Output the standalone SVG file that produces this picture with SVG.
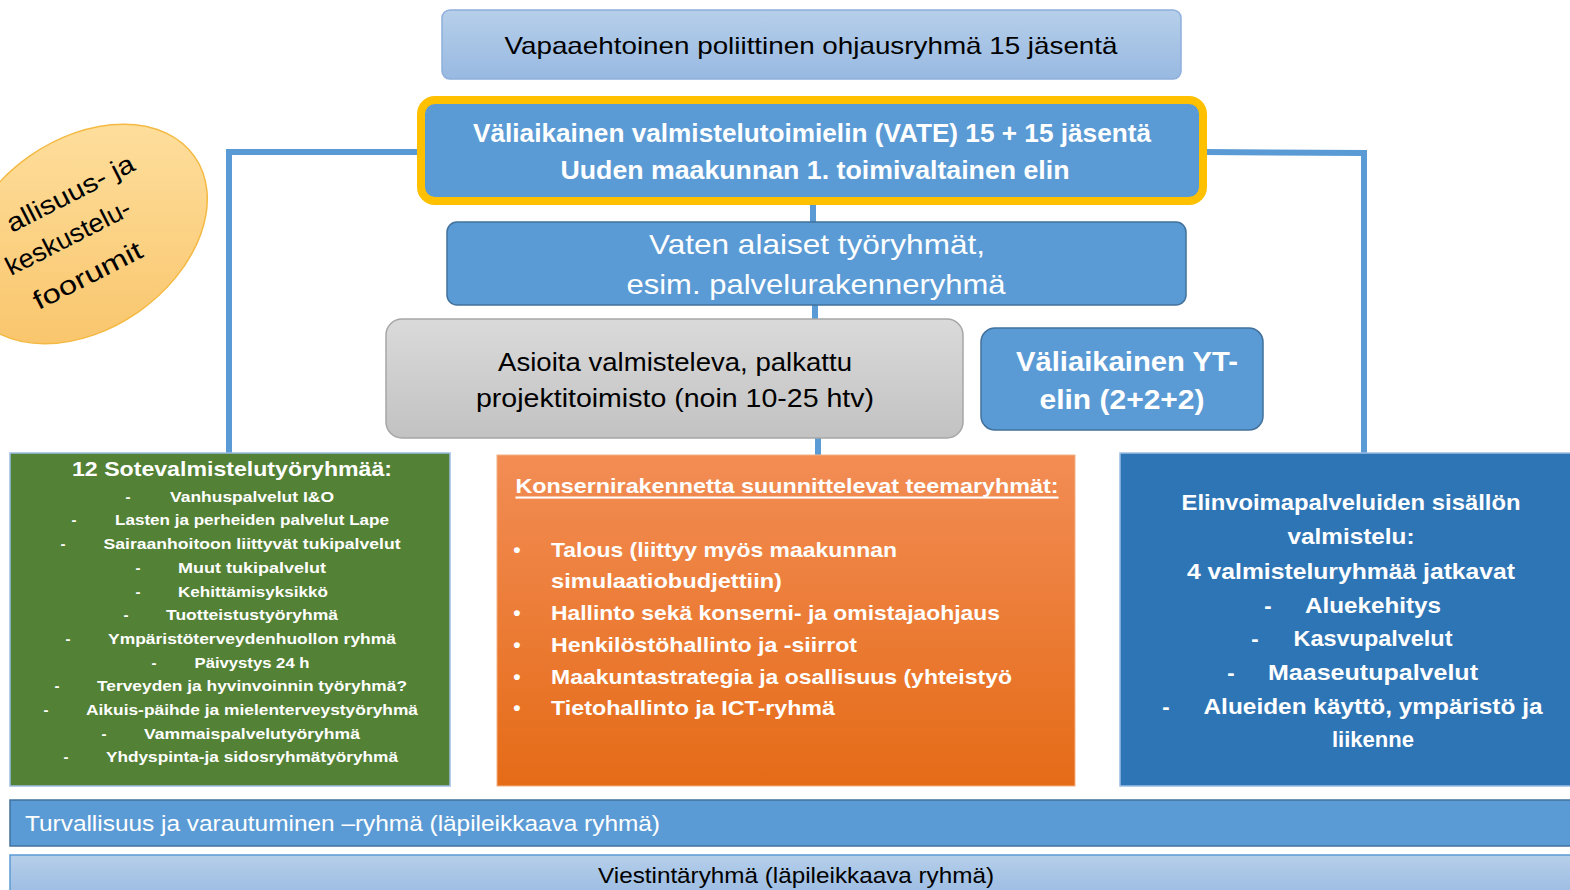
<svg xmlns="http://www.w3.org/2000/svg" width="1570" height="890" viewBox="0 0 1570 890">
<defs>
<linearGradient id="gLight" x1="0" y1="0" x2="0" y2="1"><stop offset="0" stop-color="#b6cfea"/><stop offset="1" stop-color="#98b9e1"/></linearGradient>
<linearGradient id="gGray" x1="0" y1="0" x2="0" y2="1"><stop offset="0" stop-color="#dadada"/><stop offset="1" stop-color="#c2c2c2"/></linearGradient>
<linearGradient id="gOrange" x1="0" y1="0" x2="0" y2="1"><stop offset="0" stop-color="#f28d55"/><stop offset="1" stop-color="#e56b17"/></linearGradient>
<linearGradient id="gEll" x1="1" y1="0" x2="0" y2="1"><stop offset="0" stop-color="#ffe3a6"/><stop offset="1" stop-color="#f8c163"/></linearGradient>
<style>
text{font-family:"Liberation Sans","DejaVu Sans",sans-serif;dominant-baseline:central}
.c{text-anchor:middle}
.w{fill:#ffffff}
.k{fill:#000000}
.b{font-weight:bold}
.conn{stroke:#5b9bd5;stroke-width:6;fill:none}
.blue{fill:#5b9bd5;stroke:#41719c;stroke-width:1.5}
.g15{font-size:15px;font-weight:bold;fill:#ffffff}
.o21{font-size:21px;font-weight:bold;fill:#ffffff}
.r22{font-size:22px;font-weight:bold;fill:#ffffff}
</style>
</defs>

<g id="connectors">
<polyline class="conn" points="420,152 229,152 229,453"/>
<polyline class="conn" points="1204,152 1364,153 1364,453"/>
<line class="conn" x1="813" y1="195" x2="813" y2="222"/>
<line class="conn" x1="815" y1="305" x2="815" y2="320"/>
<line class="conn" x1="818" y1="438" x2="818" y2="455"/>
</g>

<g id="forum">
<ellipse cx="84" cy="234" rx="135" ry="95" transform="rotate(-35 84 234)" fill="url(#gEll)" stroke="#f4b942" stroke-width="1.5"/>
<g transform="translate(68,237) rotate(-27)">
<text class="c k" x="22" y="-38" font-size="26" textLength="140" lengthAdjust="spacingAndGlyphs">allisuus- ja</text>
<text class="c k" x="0" y="0" font-size="26" textLength="137" lengthAdjust="spacingAndGlyphs">keskustelu-</text>
<text class="c k" x="0" y="43" font-size="26" textLength="119" lengthAdjust="spacingAndGlyphs">foorumit</text>
</g>
</g>

<g id="ohjausryhma">
<rect x="442" y="10" width="739" height="69" rx="8" fill="url(#gLight)" stroke="#8eaedb" stroke-width="1.5"/>
<text class="c k" x="811" y="45" font-size="24" textLength="613" lengthAdjust="spacingAndGlyphs">Vapaaehtoinen poliittinen ohjausryhmä 15 jäsentä</text>
</g>

<g id="vate">
<rect x="421" y="100" width="782" height="101" rx="14" fill="#5b9bd5" stroke="#ffc000" stroke-width="8"/>
<text class="c w b" x="812" y="133" font-size="25" textLength="678" lengthAdjust="spacingAndGlyphs">Väliaikainen valmistelutoimielin (VATE) 15 + 15 jäsentä</text>
<text class="c w b" x="815" y="170" font-size="25" textLength="509" lengthAdjust="spacingAndGlyphs">Uuden maakunnan 1. toimivaltainen elin</text>
</g>

<g id="vaten-tyoryhmat">
<rect class="blue" x="447" y="222" width="739" height="83" rx="10"/>
<text class="c w" x="817" y="244" font-size="28" textLength="336" lengthAdjust="spacingAndGlyphs">Vaten alaiset työryhmät,</text>
<text class="c w" x="816" y="284" font-size="28" textLength="379" lengthAdjust="spacingAndGlyphs">esim. palvelurakenneryhmä</text>
</g>

<g id="projektitoimisto">
<rect x="386" y="319" width="577" height="119" rx="16" fill="url(#gGray)" stroke="#a6a6a6" stroke-width="1.5"/>
<text class="c k" x="675" y="362" font-size="26" textLength="354" lengthAdjust="spacingAndGlyphs">Asioita valmisteleva, palkattu</text>
<text class="c k" x="675" y="398" font-size="26" textLength="398" lengthAdjust="spacingAndGlyphs">projektitoimisto (noin 10-25 htv)</text>
</g>

<g id="yt-elin">
<rect class="blue" x="981" y="328" width="282" height="102" rx="14"/>
<text class="c w b" x="1127" y="361" font-size="28" textLength="222" lengthAdjust="spacingAndGlyphs">Väliaikainen YT-</text>
<text class="c w b" x="1122" y="399" font-size="28" textLength="165" lengthAdjust="spacingAndGlyphs">elin (2+2+2)</text>
</g>

<g id="sote">
<rect x="10" y="453" width="440" height="333" fill="#538135" stroke="#9cbde4" stroke-width="1.5"/>
<text class="c w b" x="232" y="468" font-size="21" textLength="320" lengthAdjust="spacingAndGlyphs">12 Sotevalmistelutyöryhmää:</text>
<g class="g15">
<text x="128" y="496" class="c">-</text><text class="c" x="252" y="496" textLength="164" lengthAdjust="spacingAndGlyphs">Vanhuspalvelut I&amp;O</text>
<text x="74" y="519" class="c">-</text><text class="c" x="252" y="519" textLength="274" lengthAdjust="spacingAndGlyphs">Lasten ja perheiden palvelut Lape</text>
<text x="63" y="543" class="c">-</text><text class="c" x="252" y="543" textLength="297" lengthAdjust="spacingAndGlyphs">Sairaanhoitoon liittyvät tukipalvelut</text>
<text x="138" y="567" class="c">-</text><text class="c" x="252" y="567" textLength="148" lengthAdjust="spacingAndGlyphs">Muut tukipalvelut</text>
<text x="138" y="591" class="c">-</text><text class="c" x="253" y="591" textLength="150" lengthAdjust="spacingAndGlyphs">Kehittämisyksikkö</text>
<text x="126" y="614" class="c">-</text><text class="c" x="252" y="614" textLength="172" lengthAdjust="spacingAndGlyphs">Tuotteistustyöryhmä</text>
<text x="68" y="638" class="c">-</text><text class="c" x="252" y="638" textLength="288" lengthAdjust="spacingAndGlyphs">Ympäristöterveydenhuollon ryhmä</text>
<text x="154" y="662" class="c">-</text><text class="c" x="252" y="662" textLength="115" lengthAdjust="spacingAndGlyphs">Päivystys 24 h</text>
<text x="57" y="685" class="c">-</text><text class="c" x="252" y="685" textLength="310" lengthAdjust="spacingAndGlyphs">Terveyden ja hyvinvoinnin työryhmä?</text>
<text x="46" y="709" class="c">-</text><text class="c" x="252" y="709" textLength="332" lengthAdjust="spacingAndGlyphs">Aikuis-päihde ja mielenterveystyöryhmä</text>
<text x="104" y="733" class="c">-</text><text class="c" x="252" y="733" textLength="216" lengthAdjust="spacingAndGlyphs">Vammaispalvelutyöryhmä</text>
<text x="66" y="756" class="c">-</text><text class="c" x="252" y="756" textLength="292" lengthAdjust="spacingAndGlyphs">Yhdyspinta-ja sidosryhmätyöryhmä</text>
</g>
</g>

<g id="konserni">
<rect x="497" y="455" width="578" height="331" fill="url(#gOrange)" stroke="#f4b183" stroke-width="1"/>
<text class="c w b" x="787" y="485" font-size="21" text-decoration="underline" textLength="543" lengthAdjust="spacingAndGlyphs">Konsernirakennetta suunnittelevat teemaryhmät:</text>
<g class="o21">
<text x="517" y="549" class="c">•</text><text x="551" y="549" textLength="346" lengthAdjust="spacingAndGlyphs">Talous (liittyy myös maakunnan</text>
<text x="551" y="580" textLength="231" lengthAdjust="spacingAndGlyphs">simulaatiobudjettiin)</text>
<text x="517" y="612" class="c">•</text><text x="551" y="612" textLength="449" lengthAdjust="spacingAndGlyphs">Hallinto sekä konserni- ja omistajaohjaus</text>
<text x="517" y="644" class="c">•</text><text x="551" y="644" textLength="306" lengthAdjust="spacingAndGlyphs">Henkilöstöhallinto ja -siirrot</text>
<text x="517" y="676" class="c">•</text><text x="551" y="676" textLength="461" lengthAdjust="spacingAndGlyphs">Maakuntastrategia ja osallisuus (yhteistyö</text>
<text x="517" y="707" class="c">•</text><text x="551" y="707" textLength="284" lengthAdjust="spacingAndGlyphs">Tietohallinto ja ICT-ryhmä</text>
</g>
</g>

<g id="elinvoima">
<rect x="1120" y="453" width="452" height="333" fill="#2e75b6" stroke="#9cbde4" stroke-width="1.5"/>
<g class="r22">
<text class="c" x="1351" y="502" textLength="339" lengthAdjust="spacingAndGlyphs">Elinvoimapalveluiden sisällön</text>
<text class="c" x="1351" y="536" textLength="127" lengthAdjust="spacingAndGlyphs">valmistelu:</text>
<text class="c" x="1351" y="571" textLength="328" lengthAdjust="spacingAndGlyphs">4 valmisteluryhmää jatkavat</text>
<text class="c" x="1268" y="605">-</text><text class="c" x="1373" y="605" textLength="136" lengthAdjust="spacingAndGlyphs">Aluekehitys</text>
<text class="c" x="1255" y="638">-</text><text class="c" x="1373" y="638" textLength="159" lengthAdjust="spacingAndGlyphs">Kasvupalvelut</text>
<text class="c" x="1231" y="672">-</text><text class="c" x="1373" y="672" textLength="210" lengthAdjust="spacingAndGlyphs">Maaseutupalvelut</text>
<text class="c" x="1166" y="706">-</text><text class="c" x="1373" y="706" textLength="339" lengthAdjust="spacingAndGlyphs">Alueiden käyttö, ympäristö ja</text>
<text class="c" x="1373" y="739" textLength="82" lengthAdjust="spacingAndGlyphs">liikenne</text>
</g>
</g>

<g id="turvallisuus">
<rect class="blue" x="10" y="800" width="1565" height="46"/>
<text class="w" x="25" y="823" font-size="22" textLength="635" lengthAdjust="spacingAndGlyphs">Turvallisuus  ja varautuminen –ryhmä (läpileikkaava ryhmä)</text>
</g>

<g id="viestinta">
<rect x="10" y="855" width="1565" height="45" fill="url(#gLight)" stroke="#5b9bd5" stroke-width="1.5"/>
<text class="c k" x="796" y="875" font-size="22" textLength="396" lengthAdjust="spacingAndGlyphs">Viestintäryhmä (läpileikkaava ryhmä)</text>
</g>
</svg>
